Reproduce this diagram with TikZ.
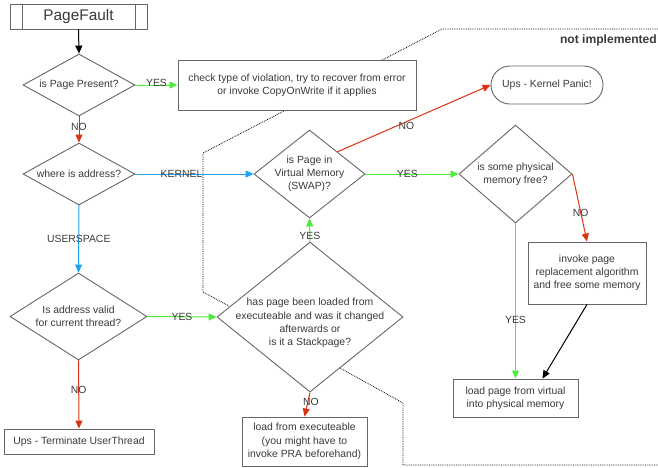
\documentclass[tikz,border=0pt]{standalone}
\usepackage{fontspec}
\setmainfont{Liberation Sans}
\usetikzlibrary{shapes.geometric,arrows.meta}
\definecolor{edgegray}{HTML}{666666}
\definecolor{txtgray}{HTML}{3A3A3A}
\definecolor{yesgreen}{HTML}{4CEB3C}
\definecolor{nored}{HTML}{DC3214}
\definecolor{kblue}{HTML}{1EA0F5}
\tikzset{
  base/.style={draw=edgegray, line width=0.9pt, fill=white, text=txtgray,
    font=\fontsize{10.4}{13.3}\selectfont, align=center, inner sep=0pt},
  box/.style={base, rectangle},
  dia/.style={base, diamond},
  term/.style={base, rectangle, rounded corners=19pt},
  lab/.style={text=txtgray, font=\fontsize{10.4}{13.3}\selectfont, inner sep=0pt},
  flow/.style={line width=1pt, -{Triangle[length=8pt,width=7pt]}},
  yesarrow/.style={flow, yesgreen},
  noarrow/.style={flow, nored},
  kernarrow/.style={flow, kblue},
  plainarrow/.style={flow, black},
  border/.style={densely dotted, line width=0.8pt, black}
}
\begin{document}
\begin{tikzpicture}[x=1pt, y=-1pt]
\useasboundingbox (0,0) rectangle (658,467);

% boundary of the part that is not implemented yet
\draw[border] (658,29) -- (442,29) -- (203,153) -- (203,292) -- (229,306);
\draw[border] (340,368) -- (403,403) -- (403,465) -- (658,465);
\node[anchor=east, font=\fontsize{12.1}{14}\selectfont\bfseries, text=txtgray, inner sep=0pt]
  (ni) at (657,40) {not implemented};

% start
\node[box, minimum width=137pt, minimum height=25pt,
      font=\fontsize{15.4}{18}\selectfont] (pf) at (78.5,16.5) {PageFault};
\draw[edgegray, line width=0.9pt] ([xshift=13pt]pf.north west) -- ([xshift=13pt]pf.south west)
  ([xshift=-12pt]pf.north east) -- ([xshift=-12pt]pf.south east);

% decisions
\node[dia, minimum width=112pt, minimum height=62pt,
      label={[lab]center:is Page Present?}] (pp) at (79,85) {};
\node[dia, minimum width=112pt, minimum height=62pt,
      label={[lab]center:where is address?}] (wa) at (79,174) {};
\node[dia, minimum width=137pt, minimum height=87pt,
      label={[lab, align=center]center:Is address valid\\for current thread?}] (av) at (78.5,316.5) {};
\node[dia, minimum width=111pt, minimum height=88pt,
      label={[lab, align=center]center:is Page in\\Virtual Memory\\(SWAP)?}] (sw) at (309.5,174) {};
\node[dia, minimum width=113pt, minimum height=98pt,
      label={[lab, align=center]center:is some physical\\memory free?}] (pm) at (515.5,174) {};
\node[dia, minimum width=186pt, minimum height=150pt,
      label={[lab, align=center, yshift=-6pt]center:has page been loaded from\\executeable and was it changed\\afterwards or\\is it a Stackpage?}] (ld) at (310,317) {};

% actions
\node[box, minimum width=238pt, minimum height=50pt] (cv) at (297,85)
  {check type of violation, try to recover from error\\or invoke CopyOnWrite if it applies};
\node[term, minimum width=112pt, minimum height=38pt] (kp) at (547,85) {Ups - Kernel Panic!};
\node[box, minimum width=118pt, minimum height=62pt] (pr) at (587,273)
  {invoke page\\replacement algorithm\\and free some memory};
\node[box, minimum width=125pt, minimum height=38pt] (lp) at (515.5,398)
  {load page from virtual\\into physical memory};
\node[box, minimum width=150pt, minimum height=25pt] (tu) at (79,441.5) {Ups - Terminate UserThread};
\node[box, minimum width=125pt, minimum height=49pt] (le) at (304.5,441.5)
  {load from executeable\\(you might have to\\invoke PRA beforehand)};

% connectors
\draw[plainarrow] (pf.south) -- (pp.north);
\draw[yesarrow] (pp.east) -- node[lab, yshift=2pt]{YES} (cv.west);
\draw[noarrow] (pp.south) -- node[lab, pos=0.4]{NO} (wa.north);
\draw[kernarrow] (wa.east) -- node[lab, pos=0.39]{KERNEL} (sw.west);
\draw[kernarrow] (wa.south) -- node[lab]{USERSPACE} (av.north);
\draw[yesarrow] (av.east) -- node[lab]{YES} (ld.west);
\draw[noarrow] (av.south) -- node[lab, pos=0.43]{NO} (tu.north);
\draw[yesarrow] (ld.north) -- node[lab, pos=0.25]{YES} (sw.south);
\draw[noarrow] (ld.south) -- node[lab, pos=0.4, xshift=3pt]{NO} (le.north);
\draw[yesarrow] (sw.east) -- node[lab, pos=0.45]{YES} (pm.west);
\draw[noarrow] (sw.north east) -- node[lab, pos=0.45, yshift=-4pt]{NO} (kp.west);
\draw[noarrow] (pm.east) -- node[lab, pos=0.57]{NO} (pr.north);
\draw[yesarrow] (pm.south) -- node[lab, pos=0.62]{YES} (lp.north);
\draw[plainarrow] (pr.south) -- ([xshift=27pt]lp.north);
\end{tikzpicture}
\end{document}
